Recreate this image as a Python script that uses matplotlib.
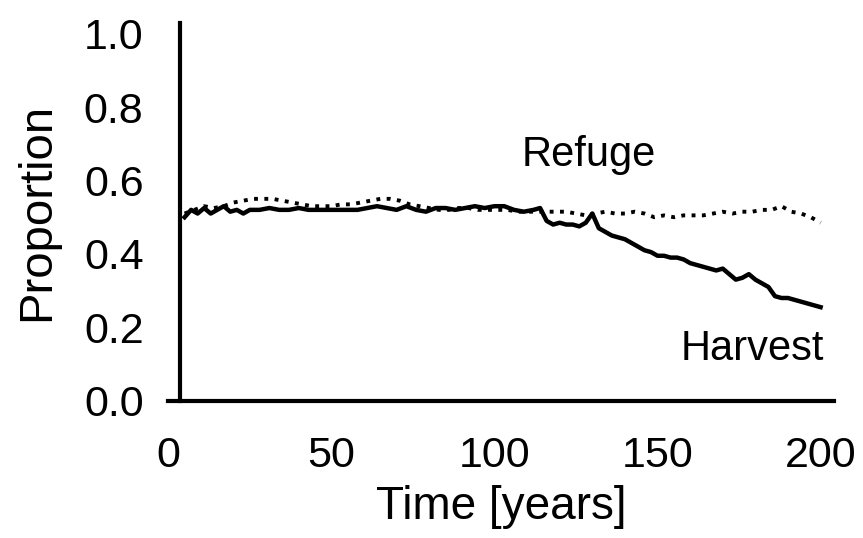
import numpy as np
import matplotlib.pyplot as plt

plt.rcParams['font.family'] = ['Liberation Sans', 'DejaVu Sans']

# Harvest (solid line)
harvest_years = [5, 7, 9, 11, 13, 15, 17, 19, 21, 23, 25, 28, 31, 34, 37, 40, 43, 46, 49, 52,
                 55, 58, 61, 64, 67, 70, 73, 76, 79, 82, 85, 88, 91, 94, 97, 100, 103, 106, 109,
                 112, 114, 116, 118, 120, 122, 124, 126, 128, 130, 132, 134, 136, 138, 140, 142,
                 144, 146, 148, 150, 152, 154, 156, 158, 160, 162, 164, 166, 168, 170, 172, 174,
                 176, 178, 180, 182, 184, 186, 188, 190, 192, 194, 196, 198, 200]
harvest = [0.50, 0.52, 0.51, 0.525, 0.51, 0.52, 0.53, 0.515, 0.52, 0.51, 0.52, 0.52, 0.525,
           0.52, 0.52, 0.525, 0.52, 0.52, 0.52, 0.52, 0.52, 0.52, 0.525, 0.53, 0.525, 0.52,
           0.53, 0.52, 0.515, 0.525, 0.525, 0.52, 0.525, 0.53, 0.525, 0.53, 0.53, 0.52, 0.515,
           0.52, 0.525, 0.49, 0.48, 0.485, 0.48, 0.48, 0.475, 0.485, 0.51, 0.47, 0.46, 0.45,
           0.445, 0.44, 0.43, 0.42, 0.41, 0.405, 0.395, 0.395, 0.39, 0.39, 0.385, 0.375, 0.37,
           0.365, 0.36, 0.355, 0.36, 0.345, 0.33, 0.335, 0.345, 0.33, 0.32, 0.31, 0.285, 0.28,
           0.28, 0.275, 0.27, 0.265, 0.26, 0.255]

# Refuge (dotted line)
refuge_years = [5, 8, 11, 14, 17, 20, 23, 26, 29, 32, 35, 38, 41, 44, 47, 50, 53, 56, 59, 62,
                65, 68, 71, 74, 77, 80, 83, 86, 89, 92, 95, 98, 101, 104, 107, 110, 113, 116,
                119, 122, 125, 128, 131, 134, 137, 140, 143, 146, 149, 152, 155, 158, 161, 164,
                167, 170, 173, 176, 179, 182, 185, 188, 191, 194, 197, 200]
refuge = [0.51, 0.52, 0.53, 0.525, 0.53, 0.54, 0.545, 0.55, 0.55, 0.55, 0.545, 0.54, 0.535,
          0.53, 0.53, 0.53, 0.535, 0.535, 0.54, 0.545, 0.55, 0.55, 0.545, 0.535, 0.53, 0.525,
          0.52, 0.52, 0.525, 0.525, 0.52, 0.52, 0.52, 0.52, 0.515, 0.515, 0.515, 0.515, 0.515,
          0.515, 0.51, 0.505, 0.51, 0.515, 0.51, 0.51, 0.515, 0.51, 0.50, 0.505, 0.50, 0.505,
          0.505, 0.505, 0.51, 0.515, 0.51, 0.515, 0.515, 0.52, 0.52, 0.53, 0.515, 0.51, 0.50,
          0.485]

xticks = [0, 50, 100, 150, 200]
yticks = [0.0, 0.2, 0.4, 0.6, 0.8, 1.0]

fig = plt.figure(figsize=(8.63, 5.38), dpi=100)
ax = fig.add_axes([0.195, 0.255, 0.771, 0.703])

ax.plot(refuge_years, refuge, color='black', linestyle=':', linewidth=2.8)
ax.plot(harvest_years, harvest, color='black', linestyle='-', linewidth=3.2)

ax.set_xlim(0, 204)
ax.set_ylim(0, 1.03)
ax.spines['left'].set_position(('data', 3.5))
ax.spines['top'].set_visible(False)
ax.spines['right'].set_visible(False)
for s in ['left', 'bottom']:
    ax.spines[s].set_linewidth(3.0)

ax.set_xticks(xticks)
ax.set_yticks(yticks)
ax.set_yticklabels([f"{v:.1f}" for v in yticks])
ax.tick_params(length=0, labelsize=31)
ax.tick_params(axis='y', pad=26)
ax.tick_params(axis='x', pad=25)

ax.set_xlabel("Time [years]", fontsize=33, labelpad=7)
ax.set_ylabel("Proportion", fontsize=34, labelpad=18)

ax.text(129, 0.67, "Refuge", fontsize=30, ha='center', va='center')
ax.text(179, 0.14, "Harvest", fontsize=30, ha='center', va='center')

fig.savefig("out.png", dpi=100)
